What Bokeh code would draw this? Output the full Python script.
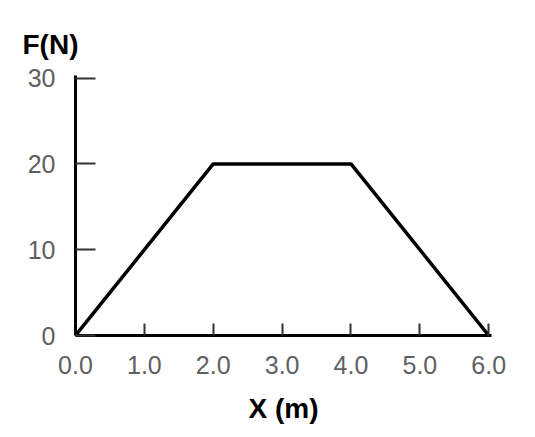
from bokeh.plotting import figure
from bokeh.models import FixedTicker, NumeralTickFormatter, Range1d
from bokeh.embed import file_html
from bokeh.resources import INLINE

x_m = [0.0, 2.0, 4.0, 6.0]
force_n = [0, 20, 20, 0]
x_ticks = [0, 1, 2, 3, 4, 5, 6]
y_ticks = [0, 10, 20, 30]

p = figure(width=519, height=429, output_backend="svg", toolbar_location=None,
           x_range=Range1d(0, 6.04), y_range=Range1d(0, 30.3),
           min_border_left=75, min_border_right=28, min_border_top=75, min_border_bottom=94,
           title="F(N)")
p.outline_line_color = None
p.background_fill_color = "white"
p.border_fill_color = "white"
p.xgrid.visible = False
p.ygrid.visible = False

p.title.align = "left"
p.title.offset = -53
p.title.standoff = 31
p.title.text_font = "Liberation Sans"
p.title.text_font_size = "28px"
p.title.text_font_style = "bold"
p.title.text_color = "black"

p.line(x_m, force_n, line_color="black", line_width=3.5)

xa = p.xaxis[0]
xa.ticker = FixedTicker(ticks=x_ticks)
xa.formatter = NumeralTickFormatter(format="0.0")
xa.major_tick_in = 12
xa.major_tick_out = 0
xa.minor_tick_line_color = None
xa.major_tick_line_width = 2
xa.major_tick_line_color = "#333333"
xa.axis_line_width = 3
xa.axis_line_color = "black"
xa.major_label_text_font = "Liberation Sans"
xa.major_label_text_font_size = "25px"
xa.major_label_text_color = "#606060"
xa.major_label_standoff = 20
xa.axis_label = "X (m)"
xa.axis_label_text_font = "Liberation Sans"
xa.axis_label_text_font_size = "28px"
xa.axis_label_text_font_style = "bold"
xa.axis_label_text_color = "black"
xa.axis_label_standoff = 16

ya = p.yaxis[0]
ya.ticker = FixedTicker(ticks=y_ticks)
ya.major_tick_in = 20
ya.major_tick_out = 0
ya.minor_tick_line_color = None
ya.major_tick_line_width = 2
ya.major_tick_line_color = "#333333"
ya.axis_line_width = 3
ya.axis_line_color = "black"
ya.major_label_text_font = "Liberation Sans"
ya.major_label_text_font_size = "25px"
ya.major_label_text_color = "#606060"
ya.major_label_standoff = 20

open("out.html", "w").write(file_html(p, INLINE))
